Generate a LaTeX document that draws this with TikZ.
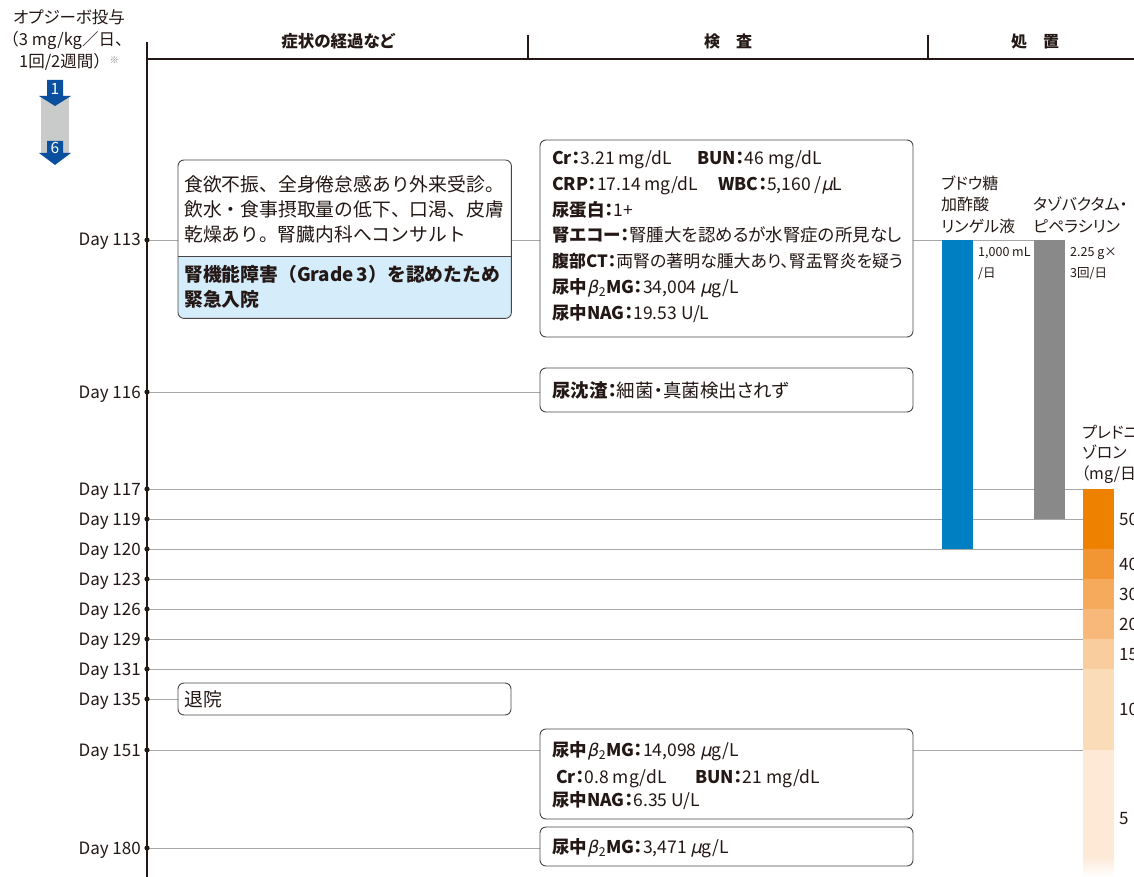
\documentclass[tikz,border=0pt]{standalone}
\usepackage{fontspec}
\setmainfont{Noto Sans CJK JP}
\newfontfamily\grk{DejaVu Sans}[FakeSlant=0.22]
\newcommand\gb{{\grk β}}
\newcommand\gm{{\grk μ}}
\newcommand\palt{\addfontfeatures{RawFeature=+palt}}
\definecolor{ink}{HTML}{231815}
\definecolor{boxc}{HTML}{4a4544}
\definecolor{dayc}{HTML}{a8a8a8}
\definecolor{lblue}{HTML}{d5edfa}
\definecolor{barblue}{HTML}{0080c3}
\definecolor{bargray}{HTML}{898989}
\definecolor{arrblue}{HTML}{0b4f9f}
\definecolor{arrgray}{HTML}{c9caca}
\definecolor{oa}{HTML}{ee8200}
\definecolor{ob}{HTML}{f29533}
\definecolor{oc}{HTML}{f5aa5c}
\definecolor{od}{HTML}{f7b87a}
\definecolor{oe}{HTML}{f9cd9e}
\definecolor{of}{HTML}{fbdcb8}
\definecolor{og}{HTML}{fde9d6}
\newcommand\myfs[1]{\fontsize{#1}{#1}\selectfont}
\begin{document}
\begin{tikzpicture}[x=1pt,y=-1pt,
  txt/.style={inner sep=0, anchor=base west, text=ink},
  ctxt/.style={inner sep=0, anchor=base, text=ink},
  daylbl/.style={inner sep=0, anchor=base east, text=ink, font=\myfs{17}},
  dayline/.style={draw=dayc, line width=0.9},
  roundbox/.style={draw=boxc, line width=0.9, rounded corners=6, fill=white},
  frame/.style={draw=ink, line width=1.6},
]
\useasboundingbox (0,0) rectangle (1134,877);

% ---- left title ----
\node[ctxt, font=\myfs{16.5}\palt] (t1) at (69,24) {オプジーボ投与};
\node[ctxt, font=\myfs{16.5}] (t2) at (67,46) {（3 mg/kg／日、};
\node[ctxt, font=\myfs{16.5}] (t3) at (69,68) {1回/2週間）{\color{gray}\raisebox{4pt}{\myfs{9}※}}};

% ---- dosing arrows ----
\fill[arrgray] (41,96) rectangle (69,153);
\fill[arrblue] (47,80) -- (63,80) -- (63,96) -- (71,96) -- (55,106) -- (39,96) -- (47,96) -- cycle;
\fill[arrblue] (47,141) -- (63,141) -- (63,153) -- (71,153) -- (55,165) -- (39,153) -- (47,153) -- cycle;
\node[ctxt, text=white, font=\myfs{15.5}] (n1) at (55,95) {1};
\node[ctxt, text=white, font=\myfs{15.5}] (n6) at (55,154) {6};

% ---- header ----
\draw[frame] (147,59) -- (1134,59);
\draw[ink, line width=1.2] (528,35) -- (528,59);
\draw[ink, line width=1.2] (928,35) -- (928,59);
\node[ctxt, font=\myfs{16.5}\bfseries\palt] (h1) at (338,48) {症状の経過など};
\node[ctxt, font=\myfs{16}\bfseries] (h2) at (728,48) {検\hspace{1em}査};
\node[ctxt, font=\myfs{16}\bfseries] (h3) at (1035,48) {処\hspace{1em}置};

% ---- days ----
\foreach \d/\y in {113/240,116/392,117/489,119/519,120/549,123/579,126/609,129/639,131/669,135/699,151/750,180/848}{
  \coordinate (d\d) at (147,\y);
  \node[daylbl] (lbl\d) at (141,\y+6) {Day \d};
}

% box A node (for naming)
\node[inner sep=0, minimum width=333pt, minimum height=158pt, anchor=north west] (boxA) at (178,160) {};

% day lines
\draw[dayline] (d113) -- (1065,240);
\draw[dayline] (d116) -- (540,392);
\foreach \d in {117,119,120,123,126,129,131}{
  \draw[dayline] (d\d) -- (d\d -| 1083,0);
}
\draw[dayline] (d135) -- (178,699);
\draw[dayline] (d151) -- (1083,750);
\draw[dayline] (d180) -- (540,848);

% box A (two-part)
\fill[lblue, rounded corners=6] (boxA.north west) rectangle (boxA.south east);
\fill[white] (178,256) [rounded corners=6] -- (boxA.north west) -- (boxA.north east) [sharp corners] -- (511,256) -- cycle;
\draw[boxc, line width=0.9] (178,256) -- (511,256);
\draw[boxc, line width=0.9, rounded corners=6] (boxA.north west) rectangle (boxA.south east);
\begin{scope}[every node/.style={txt, font=\myfs{18.8}}]
\node (a1) at (184,192) {食欲不振、全身倦怠感あり外来受診。};
\node (a2) at (184,217) {飲水・食事摂取量の低下、口渇、皮膚};
\node (a3) at (184,241) {乾燥あり。腎臓内科へコンサルト};
\node[font=\myfs{18.8}\bfseries] (a4) at (184,281) {腎機能障害（Grade\,3）を認めたため};
\node[font=\myfs{18.8}\bfseries] (a5) at (184,306) {緊急入院};
\end{scope}

% box B
\draw[roundbox] (540,140) rectangle (913,337);
\begin{scope}[every node/.style={txt, font=\myfs{17.5}\palt}]
\node (b1) at (552,164.5) {\textbf{Cr：}3.21 mg/dL};
\node (b1b) at (697,164.5) {\textbf{BUN：}46 mg/dL};
\node (b2) at (552,190.3) {\textbf{CRP：}17.14 mg/dL};
\node (b2b) at (718,190.3) {\textbf{WBC：}5,160 /\gm L};
\node (b3) at (552,216.1) {\textbf{尿蛋白：}1+};
\node (b4) at (552,241.9) {\textbf{腎エコー：}腎腫大を認めるが水腎症の所見なし};
\node[font=\myfs{16.9}\palt] (b5) at (552,267.7) {\textbf{腹部CT：}両腎の著明な腫大あり、腎盂腎炎を疑う};
\node (b6) at (552,293.5) {\textbf{尿中}\gb\kern0.5pt\textsubscript{2}\textbf{MG：}34,004 \gm g/L};
\node (b7) at (552,319.3) {\textbf{尿中NAG：}19.53 U/L};
\end{scope}

% box C
\draw[roundbox] (540,368) rectangle (913,412);
\node[txt, font=\myfs{18.5}\palt] (c1) at (552,397) {\textbf{尿沈渣：}細菌・真菌検出されず};

% box D
\draw[roundbox] (178,683) rectangle (511,715);
\node[txt, font=\myfs{18.8}] (dd1) at (184,706) {退院};

% box E
\draw[roundbox] (540,729) rectangle (913,819);
\begin{scope}[every node/.style={txt, font=\myfs{17.5}\palt}]
\node (e1) at (552,756.5) {\textbf{尿中}\gb\kern0.5pt\textsubscript{2}\textbf{MG：}14,098 \gm g/L};
\node (e2) at (556,783) {\textbf{Cr：}0.8 mg/dL};
\node (e2b) at (695,783) {\textbf{BUN：}21 mg/dL};
\node (e3) at (552,806.5) {\textbf{尿中NAG：}6.35 U/L};
\end{scope}

% box F
\draw[roundbox] (540,827) rectangle (913,866);
\node[txt, font=\myfs{17.5}\palt] (f1) at (552,853.5) {\textbf{尿中}\gb\kern0.5pt\textsubscript{2}\textbf{MG：}3,471 \gm g/L};

% ---- treatment bars ----
\fill[barblue] (942,240) rectangle (973,549);
\fill[bargray] (1034,240) rectangle (1065,519);
\fill[oa] (1083,489) rectangle (1114,549);
\fill[ob] (1083,549) rectangle (1114,579);
\fill[oc] (1083,579) rectangle (1114,609);
\fill[od] (1083,609) rectangle (1114,639);
\fill[oe] (1083,639) rectangle (1114,669);
\fill[of] (1083,669) rectangle (1114,750);
\fill[og] (1083,750) rectangle (1114,856);
\shade[top color=og, bottom color=white] (1083,856) rectangle (1114,877);

\begin{scope}[every node/.style={txt, font=\myfs{16}\palt}]
\node (g1) at (941,190) {ブドウ糖};
\node (g2) at (941,211) {加酢酸};
\node (g3) at (941,233) {リンゲル液};
\node (p1) at (1033,211) {タゾバクタム・};
\node (p2) at (1033,233) {ピペラシリン};
\node (r1) at (1082,438) {プレドニ};
\node (r2) at (1082,458) {ゾロン};
\node (r3) at (1081,479) {（mg/日）};
\end{scope}
\begin{scope}[every node/.style={txt, font=\myfs{12.5}}]
\node (g4) at (978,257) {1,000 mL};
\node (g5) at (978,277.5) {/日};
\node (p3) at (1070,257) {2.25 g×};
\node (p4) at (1070,277.5) {3回/日};
\end{scope}
\begin{scope}[every node/.style={txt, font=\myfs{17}}]
\node (v50) at (1119,525.5) {50};
\node (v40) at (1119,570.5) {40};
\node (v30) at (1119,600.5) {30};
\node (v20) at (1119,630.5) {20};
\node (v15) at (1119,660.5) {15};
\node (v10) at (1119,715.5) {10};
\node (v5) at (1119,824.5) {5};
\end{scope}

% ---- axis ----
\draw[frame] (147,42) -- (147,877);
\foreach \d in {113,116,117,119,120,123,126,129,131,135,151,180}{
  \fill[ink] (d\d) circle (2.6);
}
\end{tikzpicture}
\end{document}
